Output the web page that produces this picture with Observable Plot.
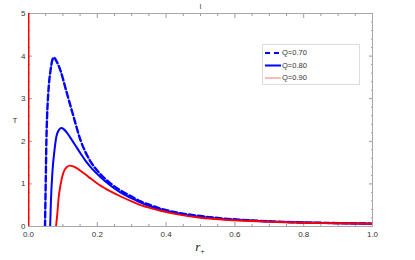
<!DOCTYPE html>
<html><head><meta charset="utf-8">
<script src="https://cdn.jsdelivr.net/npm/d3@7"></script>
<script src="https://cdn.jsdelivr.net/npm/@observablehq/plot@0.6"></script>
<style>body{margin:0;background:#fff} svg{display:block}</style>
</head><body><div id="chart"></div>
<script>
// Q = 0.70 (dashed blue)
const r070 = [0.048,0.050,0.052,0.054,0.058,0.064,0.069,0.0736,0.080,0.093,0.1095,0.132,0.151,0.166,0.180,0.195,0.209,0.240,0.267,0.300,0.326,0.355,0.384,0.430,0.500,0.570,0.645,0.720,0.800,0.900,1.000];
const T070 = [0,1.00,2.00,2.57,3.19,3.66,3.90,3.97,3.90,3.66,3.19,2.55,2.03,1.74,1.53,1.36,1.23,1.00,0.85,0.70,0.59,0.50,0.42,0.33,0.245,0.185,0.145,0.115,0.095,0.080,0.068];
// Q = 0.80 (solid blue)
const r080 = [0.063,0.065,0.070,0.075,0.081,0.088,0.095,0.103,0.112,0.122,0.135,0.151,0.166,0.180,0.195,0.209,0.240,0.267,0.300,0.326,0.355,0.384,0.430,0.500,0.570,0.645,0.720,0.800,0.900,1.000];
const T080 = [0,0.55,1.33,1.75,2.11,2.26,2.31,2.28,2.20,2.08,1.92,1.72,1.54,1.40,1.27,1.16,0.95,0.80,0.66,0.56,0.47,0.40,0.31,0.225,0.172,0.14,0.11,0.092,0.078,0.067];
// Q = 0.90 (solid red)
const r090 = [0.080,0.083,0.088,0.093,0.098,0.105,0.112,0.120,0.130,0.140,0.151,0.166,0.180,0.195,0.209,0.224,0.240,0.267,0.300,0.326,0.355,0.384,0.430,0.500,0.570,0.645,0.720,0.800,0.900,1.000];
const T090 = [0,0.23,0.70,0.97,1.17,1.33,1.40,1.43,1.41,1.37,1.31,1.22,1.13,1.04,0.96,0.89,0.82,0.71,0.59,0.50,0.43,0.37,0.29,0.205,0.16,0.13,0.105,0.088,0.075,0.065];
// red branch along r = 0
const rBranch = [0,0];
const TBranch = [0,5];

const seriesLabels = ["Q=0.70","Q=0.80","Q=0.90"];
const xMajor = [0,0.2,0.4,0.6,0.8,1.0];
const xMajorLabels = ["0.0","0.2","0.4","0.6","0.8","1.0"];
const xMinor = [0.05,0.1,0.15,0.25,0.3,0.35,0.45,0.5,0.55,0.65,0.7,0.75,0.85,0.9,0.95];
const yMajor = [0,1,2,3,4,5];
const yMinor = [0.2,0.4,0.6,0.8,1.2,1.4,1.6,1.8,2.2,2.4,2.6,2.8,3.2,3.4,3.6,3.8,4.2,4.4,4.6,4.8];
const titleText = "I";
const xLabel = "r";
const yLabel = "T";

const rows = (rs, ts) => rs.map((r, i) => ({r, T: ts[i]}));
const d070 = rows(r070, T070), d080 = rows(r080, T080), d090 = rows(r090, T090), dBr = rows(rBranch, TBranch);

const tickColor = "#9a9a9a";
const fmtX = d => xMajorLabels[xMajor.indexOf(d)];

const plot = Plot.plot({
  width: 415, height: 260,
  marginLeft: 28, marginRight: 43, marginTop: 13, marginBottom: 34,
  x: {domain: [0, 1], label: null},
  y: {domain: [0, 5], label: null},
  style: {fontFamily: "'Liberation Sans', Arial, sans-serif", fontSize: "8px", color: "#333", background: "#fff", overflow: "visible"},
  marks: [
    // minor ticks (inside)
    Plot.axisX(xMinor, {anchor: "bottom", tickSize: -2, tickFormat: () => "", stroke: tickColor, label: null}),
    Plot.axisX(xMinor, {anchor: "top", tickSize: -2, tickFormat: () => "", stroke: tickColor, label: null}),
    Plot.axisY(yMinor, {anchor: "left", tickSize: -2, tickFormat: () => "", stroke: tickColor, label: null}),
    Plot.axisY(yMinor, {anchor: "right", tickSize: -2, tickFormat: () => "", stroke: tickColor, label: null}),
    // major ticks
    Plot.axisX(xMajor, {anchor: "bottom", tickSize: -4, tickPadding: 9, tickFormat: fmtX, stroke: tickColor, fill: "#333", label: null}),
    Plot.axisX(xMajor, {anchor: "top", tickSize: -4, tickFormat: () => "", stroke: tickColor, label: null}),
    Plot.axisY(yMajor, {anchor: "left", tickSize: -4, tickPadding: 7, tickFormat: d => String(d), stroke: tickColor, fill: "#333", label: null}),
    Plot.axisY(yMajor, {anchor: "right", tickSize: -4, tickFormat: () => "", stroke: tickColor, label: null}),
    Plot.frame({stroke: "#a8a8a8"}),
    Plot.line(d070, {x: "r", y: "T", stroke: "#0000ff", strokeWidth: 2.4, strokeDasharray: "6,3", curve: "monotone-x", clip: true}),
    Plot.line(d080, {x: "r", y: "T", stroke: "#0000ff", strokeWidth: 2, curve: "monotone-x", clip: true}),
    Plot.line(d090, {x: "r", y: "T", stroke: "#ff0000", strokeWidth: 1.9, curve: "monotone-x", clip: true}),
    Plot.line(dBr, {x: "r", y: "T", stroke: "#ff0000", strokeWidth: 2, clip: true}),
    Plot.text([titleText], {frameAnchor: "top", dy: -9, text: d => d, fontSize: 7, fill: "#333"}),
    Plot.text([yLabel], {frameAnchor: "left", dx: -16, text: d => d, fontSize: 8, fill: "#333"})
  ]
});

const svg = d3.select(plot);
// x-axis label r₊
const [xr0, xr1] = plot.scale("x").range;
const xl = svg.append("text").attr("x", (xr0 + xr1) / 2).attr("y", 251)
  .attr("text-anchor", "middle").attr("font-family", "'Liberation Serif', 'Times New Roman', serif").attr("fill", "#222");
xl.append("tspan").attr("font-size", 13).attr("font-style", "italic").text(xLabel);
xl.append("tspan").attr("font-size", 8).attr("dy", 3).text("+");

// legend
const lg = svg.append("g").attr("font-family", "'Liberation Sans', Arial, sans-serif").attr("font-size", 7.5).attr("fill", "#333").attr("text-anchor", "start");
lg.append("rect").attr("x", 262.5).attr("y", 44.5).attr("width", 97).attr("height", 40).attr("fill", "#fff").attr("stroke", "#dcdcdc");
const legendStyles = [
  {stroke: "#0000ff", width: 2.2, dash: "5,4"},
  {stroke: "#0000ff", width: 2, dash: null},
  {stroke: "#f07878", width: 1, dash: null}
];
seriesLabels.forEach((s, i) => {
  const y = 53 + i * 12.5;
  const st = legendStyles[i];
  const ln = lg.append("line").attr("x1", 265).attr("x2", 281).attr("y1", y).attr("y2", y)
    .attr("stroke", st.stroke).attr("stroke-width", st.width);
  if (st.dash) ln.attr("stroke-dasharray", st.dash);
  lg.append("text").attr("x", 282).attr("y", y).attr("dy", "0.32em").attr("text-anchor", "start").text(s);
});

document.getElementById("chart").appendChild(plot);
</script>
</body></html>
